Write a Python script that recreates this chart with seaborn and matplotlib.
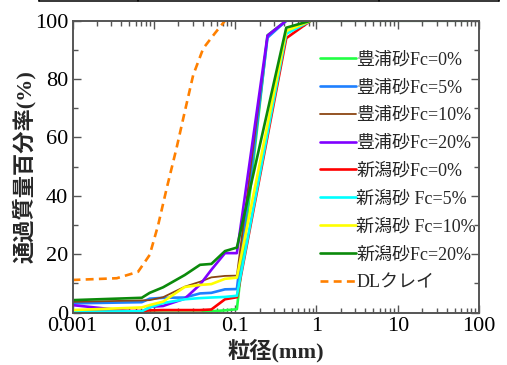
import numpy as np
import pandas as pd
import matplotlib
matplotlib.use("Agg")
import matplotlib.pyplot as plt
import seaborn as sns
from matplotlib.lines import Line2D
from matplotlib.ticker import LogLocator, MultipleLocator, FixedLocator, FixedFormatter, NullFormatter

# grain size (mm) - hydrometer part shared by the sand curves
fine_d = [0.001, 0.0071, 0.0089, 0.013, 0.024, 0.037, 0.051, 0.075, 0.105]
toyoura_coarse_d = [0.25, 0.425, 75]
niigata_coarse_d = [0.425, 0.85, 75]

# percent passing (%)
toyoura_0 = [0, 0, 0, 0, 0, 0, 0.5, 0.8, 1.2] + [95.0, 100, 100]
toyoura_5 = [3.2, 3.6, 4.8, 5.1, 5.2, 6.6, 6.8, 8.0, 8.1] + [94.2, 100, 100]
toyoura_10 = [3.7, 4.2, 4.3, 5.3, 8.9, 10.6, 12.1, 12.6, 12.7] + [95.0, 100, 100]
toyoura_20 = [2.6, 0.1, 2.0, 2.3, 4.8, 9.6, 14.7, 20.4, 20.4] + [94.9, 100, 100]
niigata_0 = [0.5, 0.6, 0.8, 0.9, 0.9, 0.9, 1.1, 4.6, 5.3] + [94.0, 100, 100]
niigata_5 = [0.3, 0.5, 1.8, 3.3, 4.6, 5.0, 5.2, 5.4, 5.8] + [95.5, 100, 100]
niigata_10 = [0.9, 1.8, 2.6, 3.8, 8.8, 9.5, 9.8, 11.6, 12.0] + [96.5, 100, 100]
niigata_20 = [4.3, 5.1, 6.8, 8.7, 12.9, 16.4, 16.7, 21.1, 22.3] + [97.6, 100, 100]

clay_d = [0.001, 0.0035, 0.0064, 0.0089, 0.0113, 0.0144, 0.019, 0.024, 0.0305, 0.0405, 0.0564, 0.075]
clay_p = [11.2, 11.8, 14.0, 19.8, 30.0, 42.6, 56.3, 68.8, 81.4, 90.5, 95.7, 100]

labels = ['豊浦砂Fc=0%', '豊浦砂Fc=5%', '豊浦砂Fc=10%', '豊浦砂Fc=20%',
          '新潟砂Fc=0%', '新潟砂 Fc=5%', '新潟砂 Fc=10%', '新潟砂Fc=20%', 'DLクレイ']
colors = ['#22ff44', '#1e80ff', '#8b4513', '#8000ff',
          '#ff0000', '#00ffff', '#ffff00', '#0b8a0b', '#ff8000']

x_ticks = [0.001, 0.01, 0.1, 1, 10, 100]
x_ticklabels = ['0.001', '0.01', '0.1', '1', '10', '100']

sns.set_style('ticks')
plt.rcParams['font.family'] = ['Liberation Serif', 'Noto Sans CJK JP']

fig = plt.figure(figsize=(5.07, 3.65), dpi=100)
ax = fig.add_axes([0.143, 0.1433, 0.802, 0.80])

series = [
    (fine_d + toyoura_coarse_d, toyoura_0),
    (fine_d + toyoura_coarse_d, toyoura_5),
    (fine_d + toyoura_coarse_d, toyoura_10),
    (fine_d + toyoura_coarse_d, toyoura_20),
    (fine_d + niigata_coarse_d, niigata_0),
    (fine_d + niigata_coarse_d, niigata_5),
    (fine_d + niigata_coarse_d, niigata_10),
    (fine_d + niigata_coarse_d, niigata_20),
]
for i, (d, p) in enumerate(series):
    df = pd.DataFrame({'d': d, 'p': p})
    lw = 1.3 if i == 2 else 1.9
    sns.lineplot(data=df, x='d', y='p', ax=ax, color=colors[i], lw=lw,
                 label=labels[i], sort=False, estimator=None)

clay = pd.DataFrame({'d': clay_d, 'p': clay_p})
sns.lineplot(data=clay, x='d', y='p', ax=ax, color=colors[8], lw=1.9,
             label=labels[8], sort=False, estimator=None)
ax.lines[-1].set_dashes((3, 2))

ax.set_xscale('log')
ax.set_xlim(0.001, 100)
ax.set_ylim(0, 100)
ax.xaxis.set_major_locator(FixedLocator(x_ticks))
ax.xaxis.set_major_formatter(FixedFormatter(x_ticklabels))
ax.xaxis.set_minor_locator(LogLocator(base=10, subs=np.arange(2, 10), numticks=20))
ax.xaxis.set_minor_formatter(NullFormatter())
ax.yaxis.set_major_locator(MultipleLocator(20))
ax.yaxis.set_minor_locator(MultipleLocator(10))

spine_col = '#555555'
for s in ax.spines.values():
    s.set_color(spine_col)
    s.set_linewidth(1.4)
ax.tick_params(which='both', direction='in', top=True, right=True,
               color=spine_col, width=1.0, labelsize=16, pad=3, labelcolor='black')
ax.tick_params(which='major', length=6)
ax.tick_params(which='minor', length=3.3)

ax.set_xlabel('粒径(mm)', fontsize=16, fontweight='bold')
ax.set_ylabel('通過質量百分率(%)', fontsize=16, fontweight='bold')
ax.xaxis.set_label_coords(0.5, -0.09)
ax.yaxis.set_label_coords(-0.09, 0.5)

ax.legend(loc='upper left', bbox_to_anchor=(0.609, 0.895), frameon=False,
          fontsize=13, handlelength=2.0, handletextpad=0.0, labelspacing=0.6,
          borderpad=0, borderaxespad=0)

# edge of the table cut off at the top of the figure
y_b = 1 - 1.0 / 365
for xp in [39, 138, 379, 499]:
    fig.add_artist(Line2D([xp / 507, xp / 507], [y_b, 1.0], color='black', lw=1.1))
fig.add_artist(Line2D([39 / 507, 499 / 507], [y_b, y_b], color='black', lw=1.1))

fig.savefig('out.png', dpi=100)
